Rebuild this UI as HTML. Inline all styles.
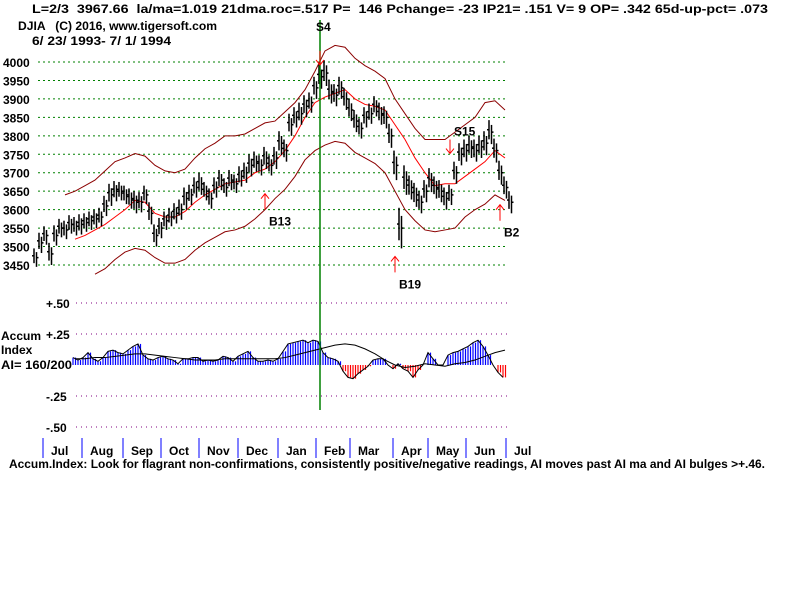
<!DOCTYPE html>
<html><head><meta charset="utf-8"><style>
body{margin:0;background:#fff;width:800px;height:600px;overflow:hidden}
svg text{font-family:"Liberation Sans",Arial,sans-serif;font-weight:bold;font-size:12px;fill:#000;white-space:pre}
</style></head><body>
<svg id="c" width="800" height="600" xmlns="http://www.w3.org/2000/svg" xml:space="preserve">
<text x="32" y="13" textLength="736" lengthAdjust="spacingAndGlyphs">L=2/3  3967.66  la/ma=1.019 21dma.roc=.517 P=  146 Pchange= -23 IP21= .151 V= 9 OP= .342 65d-up-pct= .073</text>
<text x="18" y="30" textLength="199" lengthAdjust="spacingAndGlyphs">DJIA   (C) 2016, www.tigersoft.com</text>
<text x="32" y="45" textLength="139" lengthAdjust="spacingAndGlyphs">6/ 23/ 1993- 7/ 1/ 1994</text>
<text x="1" y="340">Accum</text>
<text x="1" y="354">Index</text>
<text x="1" y="369" textLength="71" lengthAdjust="spacingAndGlyphs">AI= 160/200</text>
<text x="9" y="468" textLength="756" lengthAdjust="spacingAndGlyphs">Accum.Index: Look for flagrant non-confirmations, consistently positive/negative readings, AI moves past AI ma and AI bulges &gt;+.46.</text>
</svg>
<script>
const closes=[3470,3510,3530,3480,3530,3550,3545,3560,3555,3560,3565,3570,3575,3580,3610,3640,3650,3650,3640,3630,3620,3620,3640,3590,3530,3550,3570,3580,3590,3600,3630,3640,3660,3670,3650,3630,3660,3680,3660,3680,3670,3690,3700,3720,3730,3720,3740,3720,3740,3780,3760,3830,3850,3860,3880,3890,3930,3960,3970,3920,3910,3930,3900,3870,3840,3820,3850,3860,3880,3860,3850,3800,3720,3550,3680,3660,3640,3620,3650,3680,3660,3650,3630,3640,3700,3750,3760,3770,3760,3770,3780,3810,3760,3700,3660,3620];
const spreads=[50,55,50,60,55,50,50,50,50,55,50,50,50,50,55,60,55,50,50,55,60,55,50,60,60,55,50,50,55,55,60,55,55,60,50,55,55,55,50,55,50,55,55,60,55,55,60,55,60,65,60,60,55,60,60,55,60,65,70,65,60,60,60,60,60,55,55,55,55,60,60,65,80,110,80,65,65,60,60,65,60,60,60,55,60,60,60,60,60,60,65,65,65,65,60,60];
const upper=[3640,3650,3665,3680,3705,3730,3740,3752,3745,3720,3705,3700,3710,3740,3765,3780,3800,3800,3805,3820,3835,3840,3865,3890,3925,3975,4030,4045,4040,4010,3990,3975,3955,3900,3860,3820,3790,3790,3790,3810,3830,3850,3890,3895,3870];
const ma=[null,3520,3530,3545,3560,3580,3600,3625,3620,3590,3580,3580,3595,3620,3640,3655,3670,3675,3680,3700,3710,3730,3760,3800,3850,3890,3905,3915,3925,3900,3885,3880,3870,3830,3790,3740,3700,3665,3670,3670,3690,3710,3730,3760,3740];
const lower=[null,null,null,3425,3440,3465,3485,3495,3490,3470,3455,3455,3465,3490,3510,3525,3540,3545,3555,3575,3600,3630,3655,3690,3735,3760,3775,3785,3780,3755,3740,3725,3700,3650,3600,3570,3545,3540,3545,3550,3580,3600,3615,3640,3625];
const aiVals=[0.06,0.04,0.06,0.1,0.05,0.03,0.06,0.11,0.12,0.1,0.09,0.12,0.15,0.17,0.08,0.05,0.04,0.06,0.07,0.05,0.04,0.01,0.05,0.05,0.06,0.06,0.03,0.04,0.03,0.04,0.07,0.06,0.03,0.07,0.09,0.11,0.06,0.03,0.03,0.04,0.03,0.05,0.11,0.17,0.18,0.19,0.2,0.18,0.2,0.19,0.1,0.06,0.05,0.03,-0.05,-0.1,-0.11,-0.07,-0.04,-0.01,0.04,0.05,0.05,0.0,-0.03,0.01,-0.03,-0.05,-0.1,-0.04,0.0,0.1,0.05,0.0,0.0,0.08,0.1,0.11,0.13,0.15,0.18,0.2,0.15,0.08,0.0,-0.06,-0.1];
const aiMa=[0.05,0.05,0.06,0.06,0.07,0.08,0.09,0.09,0.08,0.07,0.06,0.05,0.04,0.04,0.04,0.05,0.05,0.05,0.05,0.05,0.05,0.06,0.08,0.1,0.12,0.14,0.16,0.17,0.16,0.13,0.09,0.04,0.0,-0.02,-0.01,0.01,0.0,-0.01,0.01,0.02,0.04,0.07,0.1,0.12];
const priceTicks=[4000,3950,3900,3850,3800,3750,3700,3650,3600,3550,3500,3450];
const aiTicks=[0.5,0.25,-0.25,-0.5];
const aiTickLabels=["+.50","+.25","-.25","-.50"];
const months=["Jul","Aug","Sep","Oct","Nov","Dec","Jan","Feb","Mar","Apr","May","Jun","Jul"];
const monthStartBar=[1.6,9.4,17.6,25.2,32.8,40.6,48.6,56.2,63,71.6,78.6,86.2,94.2];
const signals=[{t:"S4",bar:57,dir:"down",v:4030,dy:-16,dx:-8},{t:"B13",bar:46,dir:"up",v:3600,dy:0,dx:0},{t:"B19",bar:72,dir:"up",v:3430,dy:0,dx:0},{t:"S15",bar:83,dir:"down",v:3790,dy:0,dx:0},{t:"B2",bar:93,dir:"up",v:3570,dy:0,dx:0}];

const svg=document.getElementById('c');const NS='http://www.w3.org/2000/svg';
function X(i){return 35+i*5;}
function Y(v){return 62+(4000-v)*0.3691;}
function AY(v){return 365-v*124;}
function el(t,a,p){const e=document.createElementNS(NS,t);for(const k in a)e.setAttribute(k,a[k]);(p||svg).appendChild(e);return e;}
priceTicks.forEach(v=>{
 const g=el('line',{x1:38,x2:508,y1:Y(v),y2:Y(v),stroke:'#008000','stroke-dasharray':'2,3'});
 
 
 const t=el('text',{x:3,y:Y(v)+5});t.textContent=v;
 
 
});
aiTicks.forEach((v,i)=>{
 const g=el('line',{x1:76,x2:508,y1:AY(v),y2:AY(v),stroke:'#800080','stroke-dasharray':'1,4'});
 
 
 const t=el('text',{x:46,y:AY(v)+5});t.textContent=aiTickLabels[i];
 
 
});
function band(arr,col,name,off,step){let d='';arr.forEach((v,k)=>{if(v==null)return;d+=(d?'L':'M')+X(off+k*step)+','+Y(v);});
 const p=el('path',{d:d,fill:'none',stroke:col,'stroke-width':1});
 
 }
band(upper,'#8b0000','upper-band',6,2);
band(lower,'#8b0000','lower-band',6,2);
band(ma,'#ff0000','moving-average',6,2);
closes.forEach((c,i)=>{
 const x=X(i),s=spreads[i];
 const g=el('g',{stroke:'#000','stroke-width':1.5});
 
 
 el('line',{x1:x-1,x2:x-1,y1:Y(c+s*0.5),y2:Y(c-s*0.3)},g);
 el('line',{x1:x+1.5,x2:x+1.5,y1:Y(c+s*0.3),y2:Y(c-s*0.5)},g);
 el('line',{x1:x-3,x2:x-1,y1:Y(c+s*0.1),y2:Y(c+s*0.1)},g);
 el('line',{x1:x+1.5,x2:x+3.5,y1:Y(c),y2:Y(c)},g);
});
aiVals.forEach((v,k)=>{
 const i=8+k;
 [0,2.5].forEach(o=>{
  const b=el('line',{x1:X(i)+o-2,x2:X(i)+o-2,y1:AY(0),y2:AY(v),stroke:v>=0?'#0000ff':'#ff0000','stroke-width':1.2});
  
  
 });
});
let d='';aiVals.forEach((v,k)=>{d+=(k?'L':'M')+(X(8+k)-2)+','+AY(v);});
const ao=el('path',{d:d,fill:'none',stroke:'#000','stroke-width':1});


d='';aiMa.forEach((v,k)=>{d+=(k?'L':'M')+X(8+k*2)+','+AY(v);});
const am=el('path',{d:d,fill:'none',stroke:'#000','stroke-width':1});


const gl=el('line',{x1:X(57),x2:X(57),y1:20,y2:410,stroke:'#008000','stroke-width':1.5});


signals.forEach(s=>{
 const x=X(s.bar),y=Y(s.v);
 const g=el('g',{stroke:'#ff0000','stroke-width':1,fill:'none'});
 
 
 let t;
 if(s.dir==='up'){el('path',{d:`M${x},${y}L${x},${y-16}M${x-4},${y-11}L${x},${y-16}L${x+4},${y-11}`},g);t=el('text',{x:x+4+s.dx,y:y+16+s.dy,'font-size':'14'});}
 else{el('path',{d:`M${x},${y}L${x},${y+14}M${x-4},${y+9}L${x},${y+14}L${x+4},${y+9}`},g);t=el('text',{x:x+4+s.dx,y:y-4+s.dy,'font-size':'14'});}
 t.textContent=s.t;
 
 
});
monthStartBar.forEach((b,i)=>{
 const x=X(b);
 const l=el('line',{x1:x,x2:x,y1:438,y2:458,stroke:'#0000ff','stroke-width':1});
 
 
 const t=el('text',{x:x+8,y:455});t.textContent=months[i];
 
 
});
</script>
</body></html>
